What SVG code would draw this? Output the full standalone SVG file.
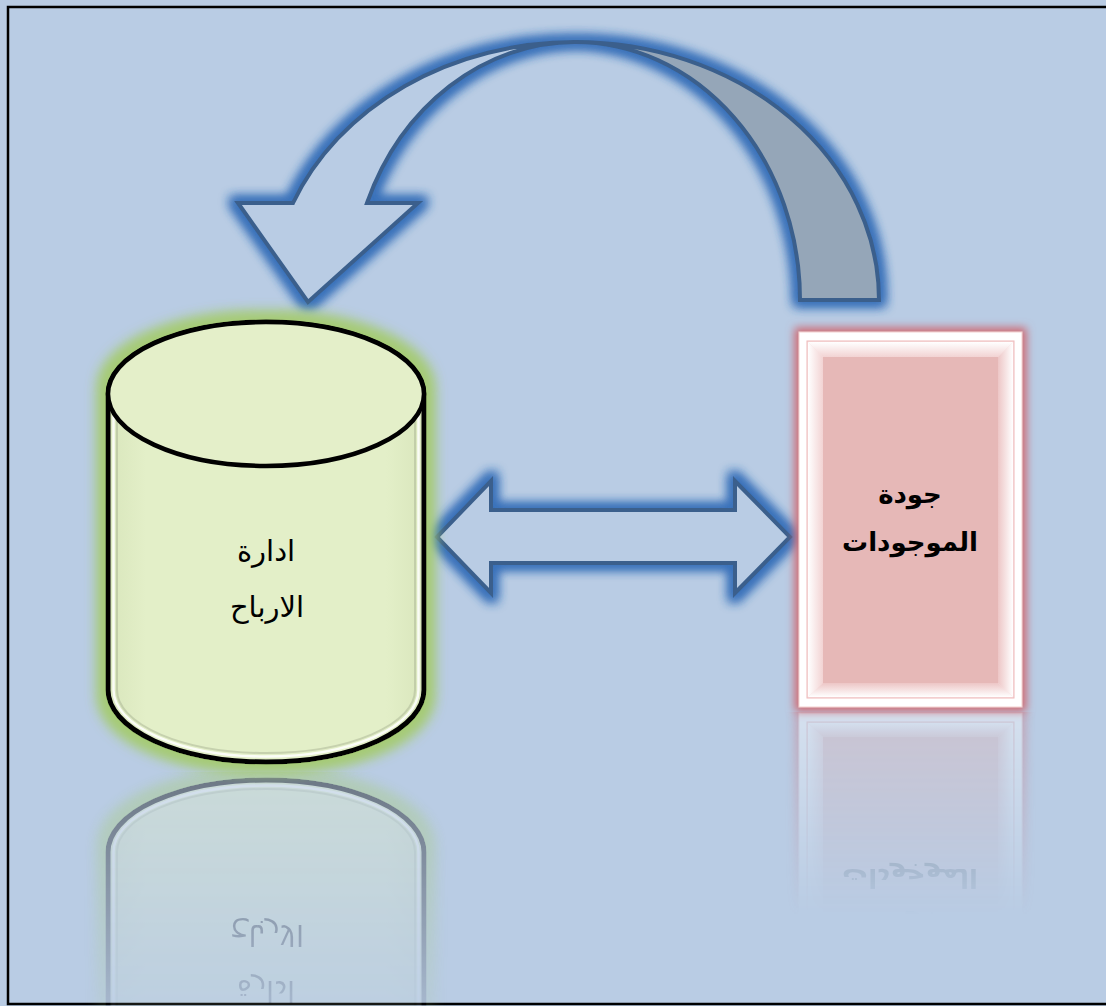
<svg xmlns="http://www.w3.org/2000/svg" xmlns:xlink="http://www.w3.org/1999/xlink" width="1106" height="1006" viewBox="0 0 1106 1006">
  <style>
    .arrow { stroke: #3A5F8C; stroke-width: 4; stroke-linejoin: miter; }
    .label { font-family: "DejaVu Sans", "Noto Sans", sans-serif; text-anchor: middle; fill: #000; }
  </style>
  <defs>
    <filter id="glowBlue" x="-20%" y="-20%" width="140%" height="140%">
      <feMorphology in="SourceAlpha" operator="dilate" radius="3.5" result="d"/>
      <feGaussianBlur in="d" stdDeviation="5.5" result="b"/>
      <feFlood flood-color="#3B72BA" flood-opacity="1"/>
      <feComposite in2="b" operator="in" result="g"/>
      <feMerge><feMergeNode in="g"/><feMergeNode in="g"/><feMergeNode in="SourceGraphic"/></feMerge>
    </filter>
    <filter id="glowGreen" x="-20%" y="-20%" width="140%" height="140%">
      <feMorphology in="SourceAlpha" operator="dilate" radius="6" result="d"/>
      <feGaussianBlur in="d" stdDeviation="7" result="b"/>
      <feFlood flood-color="#A6CB76" flood-opacity="1"/>
      <feComposite in2="b" operator="in" result="g"/>
      <feMerge><feMergeNode in="g"/><feMergeNode in="g"/><feMergeNode in="SourceGraphic"/></feMerge>
    </filter>
    <filter id="glowRed" x="-20%" y="-20%" width="140%" height="140%">
      <feMorphology in="SourceAlpha" operator="dilate" radius="4" result="d"/>
      <feGaussianBlur in="d" stdDeviation="4" result="b"/>
      <feFlood flood-color="#CF6A73" flood-opacity="1"/>
      <feComposite in2="b" operator="in" result="g"/>
      <feMerge><feMergeNode in="g"/><feMergeNode in="SourceGraphic"/></feMerge>
    </filter>
    <linearGradient id="cylBody" x1="0" y1="0" x2="1" y2="0">
      <stop offset="0" stop-color="#D9E6BC"/>
      <stop offset="0.12" stop-color="#E3EFC8"/>
      <stop offset="0.88" stop-color="#E3EFC8"/>
      <stop offset="1" stop-color="#D9E6BC"/>
    </linearGradient>
    <linearGradient id="bevTop" x1="0" y1="0" x2="0" y2="1">
      <stop offset="0" stop-color="#FFFFFF"/>
      <stop offset="1" stop-color="#F2D3D3"/>
    </linearGradient>
    <linearGradient id="bevLeft" x1="0" y1="0" x2="1" y2="0">
      <stop offset="0" stop-color="#FFFFFF"/>
      <stop offset="1" stop-color="#F2D3D3"/>
    </linearGradient>
    <linearGradient id="bevRight" x1="1" y1="0" x2="0" y2="0">
      <stop offset="0" stop-color="#FFFFFF"/>
      <stop offset="1" stop-color="#EDC6C6"/>
    </linearGradient>
    <linearGradient id="bevBottom" x1="0" y1="1" x2="0" y2="0">
      <stop offset="0" stop-color="#FFFFFF"/>
      <stop offset="1" stop-color="#EDC6C6"/>
    </linearGradient>
    <!-- fading masks for the mirror images below the nodes -->
    <linearGradient id="fadeCyl" gradientUnits="userSpaceOnUse" x1="0" y1="772" x2="0" y2="1006">
      <stop offset="0" stop-color="#fff" stop-opacity="0.42"/>
      <stop offset="1" stop-color="#fff" stop-opacity="0.1"/>
    </linearGradient>
    <mask id="maskCyl" maskUnits="userSpaceOnUse" x="0" y="772" width="1106" height="240">
      <rect x="0" y="772" width="1106" height="240" fill="url(#fadeCyl)"/>
    </mask>
    <linearGradient id="fadeBox" gradientUnits="userSpaceOnUse" x1="0" y1="712" x2="0" y2="915">
      <stop offset="0" stop-color="#fff" stop-opacity="0.4"/>
      <stop offset="1" stop-color="#fff" stop-opacity="0"/>
    </linearGradient>
    <mask id="maskBox" maskUnits="userSpaceOnUse" x="0" y="712" width="1106" height="210">
      <rect x="0" y="712" width="1106" height="210" fill="url(#fadeBox)"/>
    </mask>
  </defs>

  <!-- backdrop and frame -->
  <rect x="0" y="0" width="1106" height="1006" fill="#B9CCE4"/>
  <rect x="8" y="7" width="1100" height="997" fill="none" stroke="#000" stroke-width="2.5"/>

  <!-- mirror images -->
  <g id="reflections">
    <g mask="url(#maskCyl)">
      <use xlink:href="#node-profits" transform="translate(0,1542) scale(1,-1)"/>
    </g>
    <g mask="url(#maskBox)">
      <use xlink:href="#node-assets" transform="translate(0,1420) scale(1,-1)"/>
    </g>
  </g>

  <!-- connectors -->
  <g id="connectors">
    <g id="curved-arrow" filter="url(#glowBlue)">
      <path class="arrow" fill="#95A6B8" d="M575,42 A304,258 0 0 1 879,300 L800,300 A225,258 0 0 0 575,42 Z"/>
      <path class="arrow" fill="#B9CCE4" d="M293,203 L238,203 L308,302 L418,203 L367,203 A225,258 0 0 1 575,42 A304,258 0 0 0 293,203 Z"/>
    </g>
    <g id="double-arrow" filter="url(#glowBlue)">
      <path class="arrow" fill="#B9CCE4" d="M437,537 L491,481 L491,510 L735,510 L735,481 L790,537 L735,593 L735,563 L491,563 L491,593 Z"/>
    </g>
  </g>

  <!-- cylinder node -->
  <g id="node-profits">
    <g filter="url(#glowGreen)">
      <path d="M108,394 A158,72 0 0 1 424,394 V690 A158,72 0 0 1 108,690 Z" fill="url(#cylBody)" stroke="#000" stroke-width="5"/>
    </g>
    <path d="M113.5,394 A152.5,66.5 0 0 1 418.5,394 V690 A152.5,66.5 0 0 1 113.5,690 Z" fill="none" stroke="#FFFFFF" stroke-width="2.5" opacity="0.85"/>
    <path d="M117,394 A149,63 0 0 1 415,394 V690 A149,63 0 0 1 117,690 Z" fill="none" stroke="#A9B394" stroke-width="2" opacity="0.5"/>
    <ellipse cx="266" cy="394" rx="158" ry="72" fill="#E4EFC9" stroke="#000" stroke-width="4.5"/>
    <text class="label" x="266" y="561" font-size="29">ادارة</text>
    <text class="label" x="267" y="617" font-size="29">الارباح</text>
  </g>

  <!-- box node -->
  <g id="node-assets">
    <g filter="url(#glowRed)">
      <rect x="799" y="332" width="223" height="375" fill="#FFFFFF" stroke="#F4CFCF" stroke-width="1"/>
    </g>
    <rect x="807" y="341" width="207" height="357" fill="#F7E3E3" stroke="#EFB9BA" stroke-width="1"/>
    <polygon points="808,342 1013,342 998,357 823,357" fill="url(#bevTop)"/>
    <polygon points="808,342 823,357 823,683 808,697" fill="url(#bevLeft)"/>
    <polygon points="1013,342 1013,697 998,683 998,357" fill="url(#bevRight)"/>
    <polygon points="808,697 1013,697 998,683 823,683" fill="url(#bevBottom)"/>
    <rect x="823" y="357" width="175" height="326" fill="#E6B8B7"/>
    <text class="label" x="910" y="503" font-size="26" font-weight="bold">جودة</text>
    <text class="label" x="910" y="551" font-size="26" font-weight="bold">الموجودات</text>
  </g>
</svg>
